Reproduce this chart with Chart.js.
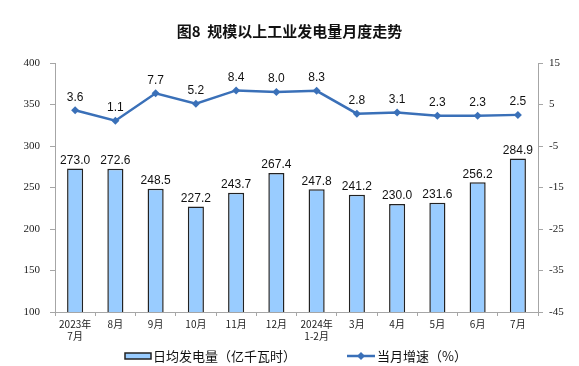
<!DOCTYPE html>
<html>
<head>
<meta charset="utf-8">
<script src="https://cdn.jsdelivr.net/npm/chart.js@4"></script>
<style>
  html, body { margin: 0; padding: 0; background: #fff; }
  #wrap { width: 579px; height: 366px; }
</style>
</head>
<body>
<div id="wrap"><canvas id="c" width="579" height="366"></canvas></div>
<script>
const months = [['2023年', '7月'], '8月', '9月', '10月', '11月', '12月', ['2024年', '1-2月'], '3月', '4月', '5月', '6月', '7月'];
const dailyOutput = [273.0, 272.6, 248.5, 227.2, 243.7, 267.4, 247.8, 241.2, 230.0, 231.6, 256.2, 284.9];
const monthlyGrowth = [3.6, 1.1, 7.7, 5.2, 8.4, 8.0, 8.3, 2.8, 3.1, 2.3, 2.3, 2.5];
const barName = '日均发电量（亿千瓦时）';
const lineName = '当月增速（%）';

const BAR_FILL = '#99ccff';
const LINE_COL = '#3a70b8';
const AXIS_COL = '#a6a6a6';
const CJK = '"Noto Sans CJK SC", sans-serif';

// numbers above bars and points
const valueLabels = {
  id: 'valueLabels',
  afterDatasetsDraw(chart) {
    const ctx = chart.ctx;
    ctx.save();
    ctx.font = '12px "Liberation Sans", Arial, sans-serif';
    ctx.fillStyle = '#111';
    ctx.textAlign = 'center';
    ctx.textBaseline = 'bottom';
    chart.data.datasets.forEach((ds, i) => {
      const meta = chart.getDatasetMeta(i);
      meta.data.forEach((el, j) => {
        const off = ds.type === 'line' ? 7 : 2;
        ctx.fillText(ds.data[j].toFixed(1), el.x, el.y - off);
      });
    });
    ctx.restore();
  }
};

// bottom legend
const bottomLegend = {
  id: 'bottomLegend',
  afterDraw(chart) {
    const ctx = chart.ctx;
    const y = 356;
    ctx.save();
    ctx.font = '13px ' + CJK;
    ctx.textBaseline = 'middle';
    // bar item
    ctx.fillStyle = BAR_FILL;
    ctx.fillRect(125, y - 3, 26, 6);
    ctx.strokeStyle = '#222';
    ctx.lineWidth = 1.5;
    ctx.strokeRect(125, y - 3, 26, 6);
    ctx.fillStyle = '#111';
    ctx.fillText(barName, 153, y);
    // line item
    ctx.strokeStyle = LINE_COL;
    ctx.lineWidth = 2.5;
    ctx.beginPath();
    ctx.moveTo(347, y);
    ctx.lineTo(375, y);
    ctx.stroke();
    ctx.fillStyle = LINE_COL;
    ctx.beginPath();
    ctx.moveTo(361, y - 4);
    ctx.lineTo(365, y);
    ctx.lineTo(361, y + 4);
    ctx.lineTo(357, y);
    ctx.closePath();
    ctx.fill();
    ctx.fillStyle = '#111';
    ctx.fillText(lineName, 377, y);
    ctx.restore();
  }
};

new Chart(document.getElementById('c'), {
  type: 'bar',
  data: {
    labels: months,
    datasets: [
      {
        type: 'line',
        label: lineName,
        data: monthlyGrowth,
        yAxisID: 'y1',
        borderColor: LINE_COL,
        backgroundColor: LINE_COL,
        borderWidth: 2.5,
        pointStyle: 'rectRot',
        pointRadius: 4,
        pointBorderWidth: 0,
        tension: 0,
        order: 0
      },
      {
        label: barName,
        data: dailyOutput,
        yAxisID: 'y',
        backgroundColor: BAR_FILL,
        borderColor: '#222',
        borderWidth: 1.5,
        categoryPercentage: 1,
        barPercentage: 0.4,
        order: 1
      }
    ]
  },
  options: {
    responsive: false,
    animation: false,
    layout: { padding: { top: 0, bottom: 22, left: 0, right: 0 } },
    plugins: {
      legend: { display: false },
      tooltip: { enabled: false },
      title: {
        display: true,
        text: '图8  规模以上工业发电量月度走势',
        color: '#111',
        font: { family: CJK, size: 15, weight: 'bold' },
        padding: { top: 22, bottom: 23 }
      }
    },
    scales: {
      x: {
        offset: true,
        grid: { display: true, drawOnChartArea: false, offset: true, color: AXIS_COL, tickLength: 4 },
        border: { color: AXIS_COL },
        ticks: { color: '#222', font: { family: CJK, size: 10 }, maxRotation: 0, autoSkip: false, padding: 2 }
      },
      y: {
        position: 'left',
        min: 100, max: 400,
        ticks: { stepSize: 50, color: '#222', font: { family: '"Liberation Serif", serif', size: 11 }, padding: 10 },
        grid: { drawOnChartArea: false, color: AXIS_COL, tickLength: 5 },
        border: { color: AXIS_COL },
        afterFit(s) { s.width = 55; }
      },
      y1: {
        position: 'right',
        min: -45, max: 15,
        ticks: { stepSize: 10, color: '#222', font: { family: '"Liberation Serif", serif', size: 11 }, padding: 6 },
        grid: { drawOnChartArea: false, color: AXIS_COL, tickLength: 5 },
        border: { color: AXIS_COL },
        afterFit(s) { s.width = 41; }
      }
    }
  },
  plugins: [valueLabels, bottomLegend]
});
</script>
</body>
</html>
